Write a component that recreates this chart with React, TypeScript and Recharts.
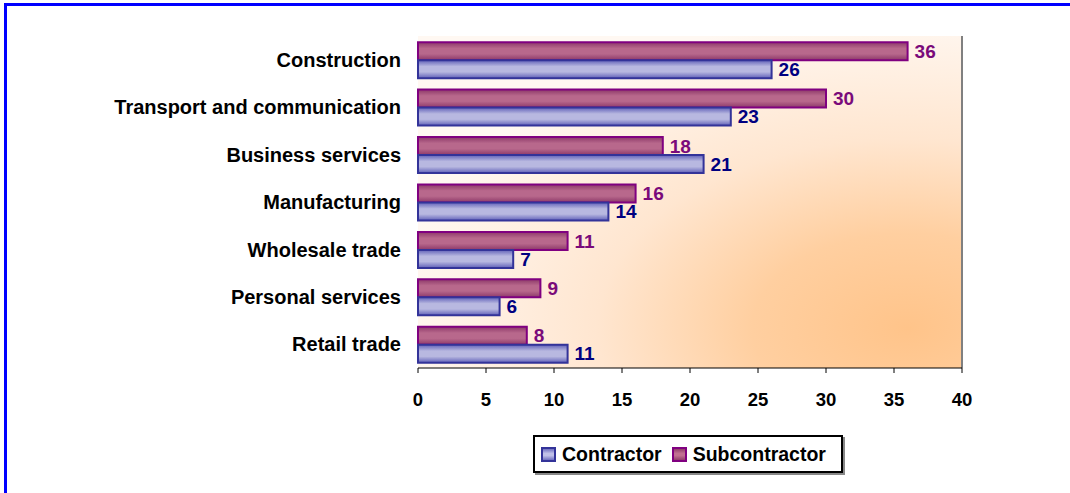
import React from 'react';
import { BarChart, Bar, XAxis, YAxis, LabelList, ReferenceLine, CartesianGrid } from 'recharts';

const categories = [
  'Construction',
  'Transport and communication',
  'Business services',
  'Manufacturing',
  'Wholesale trade',
  'Personal services',
  'Retail trade',
];
const contractor = [26, 23, 21, 14, 7, 6, 11];
const subcontractor = [36, 30, 18, 16, 11, 9, 8];
const xTicks = [0, 5, 10, 15, 20, 25, 30, 35, 40];

const data = categories.map((name, i) => ({ name, contractor: contractor[i], subcontractor: subcontractor[i] }));
const boundaryTicks = categories.map((_, i) => i).concat(categories.length);

const FONT = '"Liberation Sans", Arial, sans-serif';
const SUB_TEXT = '#7A0A7A';
const CON_TEXT = '#000080';

function LegendBox() {
  const sw = (bg: string, border: string) => ({
    display: 'inline-block', width: 11, height: 11, background: bg, border: `2px solid ${border}`, marginRight: 6,
  });
  return (
    <div style={{
      position: 'absolute', left: 533, top: 435, width: 310, height: 38, border: '2px solid #000',
      boxShadow: '2px 2px 0 #888', background: '#fff', display: 'flex', alignItems: 'center',
      fontFamily: FONT, fontWeight: 'bold', fontSize: 19.5, color: '#000', boxSizing: 'border-box', paddingLeft: 6,
    }}>
      <span style={sw('linear-gradient(#7070c0,#c0c0e8 40%,#c0c0e8 60%,#7070c0)', '#333399')} />
      <span style={{ marginRight: 10 }}>Contractor</span>
      <span style={sw('linear-gradient(#90406a,#c07090 40%,#c07090 60%,#90406a)', '#800080')} />
      <span>Subcontractor</span>
    </div>
  );
}

export default function App() {
  return (
    <div style={{ position: 'absolute', left: 0, top: 0, width: 1070, height: 493, background: '#fff' }}>
      <div style={{ position: 'absolute', left: 4, top: 3, width: 1066, height: 3, background: '#0000FF' }} />
      <div style={{ position: 'absolute', left: 4, top: 3, width: 3, height: 490, background: '#0000FF' }} />
      <div style={{ position: 'absolute', left: 0, top: 0 }}>
        <BarChart
          width={1070}
          height={493}
          data={data}
          layout="vertical"
          margin={{ top: 36, right: 108, bottom: 85, left: 0 }}
          barCategoryGap="13%"
          barGap={0}
        >
          <defs>
            <radialGradient id="plotBg" cx="0.9" cy="0.88" r="0.95">
              <stop offset="0%" stopColor="#FFC48A" />
              <stop offset="30%" stopColor="#FFCFA0" />
              <stop offset="60%" stopColor="#FFE6D0" />
              <stop offset="100%" stopColor="#FFF8F2" />
            </radialGradient>
            <linearGradient id="subFill" x1="0" y1="0" x2="0" y2="1">
              <stop offset="0%" stopColor="#8C3868" />
              <stop offset="35%" stopColor="#B8688C" />
              <stop offset="65%" stopColor="#B8688C" />
              <stop offset="100%" stopColor="#8C3868" />
            </linearGradient>
            <linearGradient id="conFill" x1="0" y1="0" x2="0" y2="1">
              <stop offset="0%" stopColor="#6060B8" />
              <stop offset="35%" stopColor="#B8B8E0" />
              <stop offset="65%" stopColor="#B8B8E0" />
              <stop offset="100%" stopColor="#6060B8" />
            </linearGradient>
          </defs>
          <CartesianGrid horizontal={false} vertical={false} fill="url(#plotBg)" />
          <XAxis
            type="number"
            domain={[0, 40]}
            ticks={xTicks}
            interval={0}
            height={40}
            tickSize={5}
            tickMargin={20}
            axisLine={{ stroke: '#000' }}
            tickLine={{ stroke: '#000' }}
            tick={{ fill: '#000', fontSize: 18.5, fontWeight: 'bold', fontFamily: FONT }}
          />
          <XAxis
            xAxisId="top"
            orientation="top"
            type="number"
            domain={[0, 40]}
            height={0}
            tick={false}
            tickLine={false}
            axisLine={{ stroke: '#808080', strokeWidth: 2 }}
          />
          <YAxis
            type="category"
            dataKey="name"
            width={418}
            axisLine={false}
            tickLine={false}
            tickMargin={11}
            interval={0}
            tick={{ fill: '#000', fontSize: 20, fontWeight: 'bold', fontFamily: FONT }}
          />
          <YAxis
            yAxisId="b"
            type="number"
            domain={[0, categories.length]}
            ticks={boundaryTicks}
            interval={0}
            width={0}
            tick={false}
            tickSize={5}
            axisLine={{ stroke: '#000' }}
            tickLine={{ stroke: '#000' }}
          />
          <ReferenceLine x={40} stroke="#808080" strokeWidth={2} />
          <Bar dataKey="subcontractor" fill="url(#subFill)" stroke="#800080" strokeWidth={2} isAnimationActive={false}>
            <LabelList dataKey="subcontractor" position="right" offset={7} fill={SUB_TEXT} fontSize={19} fontWeight="bold" fontFamily={FONT} />
          </Bar>
          <Bar dataKey="contractor" fill="url(#conFill)" stroke="#333399" strokeWidth={2} isAnimationActive={false}>
            <LabelList dataKey="contractor" position="right" offset={7} fill={CON_TEXT} fontSize={19} fontWeight="bold" fontFamily={FONT} />
          </Bar>
        </BarChart>
      </div>
      <LegendBox />
    </div>
  );
}
